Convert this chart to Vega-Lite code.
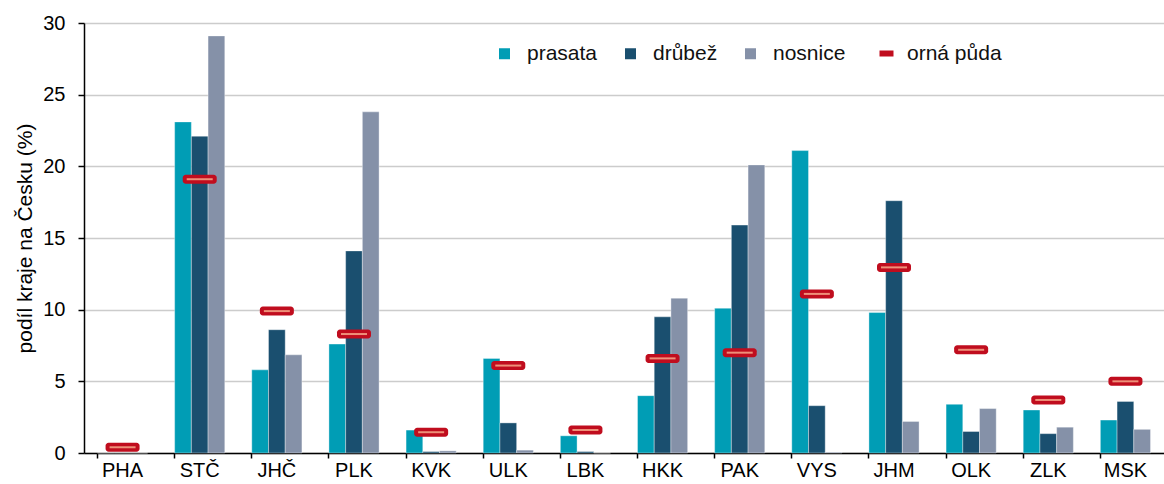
{
  "$schema": "https://vega.github.io/schema/vega-lite/v6.json",
  "width": 1080,
  "height": 430,
  "autosize": "none",
  "padding": {"left": 84, "top": 23, "right": 0, "bottom": 31},
  "background": "white",
  "config": {
    "font": "Liberation Sans",
    "view": {"stroke": null},
    "axis": {"labelFont": "Liberation Sans", "titleFont": "Liberation Sans", "labelFontSize": 20, "titleFontSize": 21, "labelColor": "#000", "titleColor": "#000", "titleFontWeight": "normal", "domainColor": "#000", "tickColor": "#000", "domainWidth": 1.5, "tickWidth": 1.5}
  },
  "data": {"values": [
    {"kraj": "PHA", "ukazatel": "prasata", "hodnota": 0},
    {"kraj": "PHA", "ukazatel": "drůbež", "hodnota": 0},
    {"kraj": "PHA", "ukazatel": "nosnice", "hodnota": 0},
    {"kraj": "PHA", "ukazatel": "orná půda", "hodnota": 0.4},
    {"kraj": "STČ", "ukazatel": "prasata", "hodnota": 23.1},
    {"kraj": "STČ", "ukazatel": "drůbež", "hodnota": 22.1},
    {"kraj": "STČ", "ukazatel": "nosnice", "hodnota": 29.1},
    {"kraj": "STČ", "ukazatel": "orná půda", "hodnota": 19.1},
    {"kraj": "JHČ", "ukazatel": "prasata", "hodnota": 5.8},
    {"kraj": "JHČ", "ukazatel": "drůbež", "hodnota": 8.6},
    {"kraj": "JHČ", "ukazatel": "nosnice", "hodnota": 6.85},
    {"kraj": "JHČ", "ukazatel": "orná půda", "hodnota": 9.9},
    {"kraj": "PLK", "ukazatel": "prasata", "hodnota": 7.6},
    {"kraj": "PLK", "ukazatel": "drůbež", "hodnota": 14.1},
    {"kraj": "PLK", "ukazatel": "nosnice", "hodnota": 23.8},
    {"kraj": "PLK", "ukazatel": "orná půda", "hodnota": 8.3},
    {"kraj": "KVK", "ukazatel": "prasata", "hodnota": 1.6},
    {"kraj": "KVK", "ukazatel": "drůbež", "hodnota": 0.1},
    {"kraj": "KVK", "ukazatel": "nosnice", "hodnota": 0.15},
    {"kraj": "KVK", "ukazatel": "orná půda", "hodnota": 1.45},
    {"kraj": "ULK", "ukazatel": "prasata", "hodnota": 6.6},
    {"kraj": "ULK", "ukazatel": "drůbež", "hodnota": 2.1},
    {"kraj": "ULK", "ukazatel": "nosnice", "hodnota": 0.2},
    {"kraj": "ULK", "ukazatel": "orná půda", "hodnota": 6.1},
    {"kraj": "LBK", "ukazatel": "prasata", "hodnota": 1.2},
    {"kraj": "LBK", "ukazatel": "drůbež", "hodnota": 0.1},
    {"kraj": "LBK", "ukazatel": "nosnice", "hodnota": 0},
    {"kraj": "LBK", "ukazatel": "orná půda", "hodnota": 1.6},
    {"kraj": "HKK", "ukazatel": "prasata", "hodnota": 4.0},
    {"kraj": "HKK", "ukazatel": "drůbež", "hodnota": 9.5},
    {"kraj": "HKK", "ukazatel": "nosnice", "hodnota": 10.8},
    {"kraj": "HKK", "ukazatel": "orná půda", "hodnota": 6.6},
    {"kraj": "PAK", "ukazatel": "prasata", "hodnota": 10.1},
    {"kraj": "PAK", "ukazatel": "drůbež", "hodnota": 15.9},
    {"kraj": "PAK", "ukazatel": "nosnice", "hodnota": 20.1},
    {"kraj": "PAK", "ukazatel": "orná půda", "hodnota": 7.0},
    {"kraj": "VYS", "ukazatel": "prasata", "hodnota": 21.1},
    {"kraj": "VYS", "ukazatel": "drůbež", "hodnota": 3.3},
    {"kraj": "VYS", "ukazatel": "nosnice", "hodnota": 0.05},
    {"kraj": "VYS", "ukazatel": "orná půda", "hodnota": 11.1},
    {"kraj": "JHM", "ukazatel": "prasata", "hodnota": 9.8},
    {"kraj": "JHM", "ukazatel": "drůbež", "hodnota": 17.6},
    {"kraj": "JHM", "ukazatel": "nosnice", "hodnota": 2.2},
    {"kraj": "JHM", "ukazatel": "orná půda", "hodnota": 12.95},
    {"kraj": "OLK", "ukazatel": "prasata", "hodnota": 3.4},
    {"kraj": "OLK", "ukazatel": "drůbež", "hodnota": 1.5},
    {"kraj": "OLK", "ukazatel": "nosnice", "hodnota": 3.1},
    {"kraj": "OLK", "ukazatel": "orná půda", "hodnota": 7.2},
    {"kraj": "ZLK", "ukazatel": "prasata", "hodnota": 3.0},
    {"kraj": "ZLK", "ukazatel": "drůbež", "hodnota": 1.35},
    {"kraj": "ZLK", "ukazatel": "nosnice", "hodnota": 1.8},
    {"kraj": "ZLK", "ukazatel": "orná půda", "hodnota": 3.7},
    {"kraj": "MSK", "ukazatel": "prasata", "hodnota": 2.3},
    {"kraj": "MSK", "ukazatel": "drůbež", "hodnota": 3.6},
    {"kraj": "MSK", "ukazatel": "nosnice", "hodnota": 1.65},
    {"kraj": "MSK", "ukazatel": "orná půda", "hodnota": 5.0}
  ]},
  "encoding": {
    "x": {
      "field": "kraj", "type": "nominal", "sort": null,
      "scale": {"paddingInner": 0.35, "paddingOuter": 0.175},
      "axis": {"title": null, "labelAngle": 0, "bandPosition": 0, "tickSize": 5, "labelPadding": 2, "grid": false, "labelFontSize": 20}
    },
    "y": {
      "field": "hodnota", "type": "quantitative",
      "scale": {"domain": [0, 30], "nice": false},
      "axis": {"title": "podíl kraje na Česku (%)", "values": [0, 5, 10, 15, 20, 25, 30], "tickSize": 6, "labelPadding": 13, "titlePadding": 7, "grid": true, "gridColor": "#cccccc", "gridWidth": 1.5}
    }
  },
  "layer": [
    {
      "transform": [{"filter": "datum.ukazatel !== 'orná půda'"}],
      "mark": {"type": "bar", "stroke": "#ffffff", "strokeWidth": 0.6, "strokeOpacity": 0.6},
      "encoding": {
        "xOffset": {"field": "ukazatel", "type": "nominal", "sort": ["prasata", "drůbež", "nosnice"], "scale": {"paddingInner": 0, "paddingOuter": 0}},
        "color": {
          "field": "ukazatel", "type": "nominal",
          "scale": {"domain": ["prasata", "drůbež", "nosnice"], "range": ["#009db5", "#1a4f6f", "#8591a8"]},
          "legend": {
            "title": null, "orient": "none", "direction": "horizontal", "columns": 3,
            "legendX": 410, "legendY": 20, "columnPadding": 22,
            "labelFont": "Liberation Sans", "labelFontSize": 21, "labelColor": "#111",
            "symbolType": "square", "symbolSize": 121, "symbolOpacity": 1, "symbolStrokeWidth": 0, "labelOffset": 12
          }
        }
      }
    },
    {
      "transform": [{"filter": "datum.ukazatel === 'orná půda'"}],
      "mark": {"type": "tick", "size": 34, "thickness": 9, "cornerRadius": 3, "opacity": 1},
      "encoding": {
        "fill": {
          "field": "ukazatel", "type": "nominal",
          "scale": {"domain": ["orná půda"], "range": ["#c00d1e"]},
          "legend": {
            "title": null, "orient": "none", "direction": "horizontal",
            "legendX": 792, "legendY": 20,
            "labelFont": "Liberation Sans", "labelFontSize": 21, "labelColor": "#111",
            "symbolType": "stroke", "symbolSize": 196, "symbolStrokeWidth": 6, "symbolStrokeColor": "#c00d1e", "symbolOpacity": 1, "labelOffset": 10
          }
        }
      }
    },
    {
      "transform": [{"filter": "datum.ukazatel === 'orná půda'"}],
      "mark": {"type": "tick", "size": 26, "thickness": 2, "color": "#ee9079", "opacity": 1},
      "encoding": {}
    }
  ]
}
